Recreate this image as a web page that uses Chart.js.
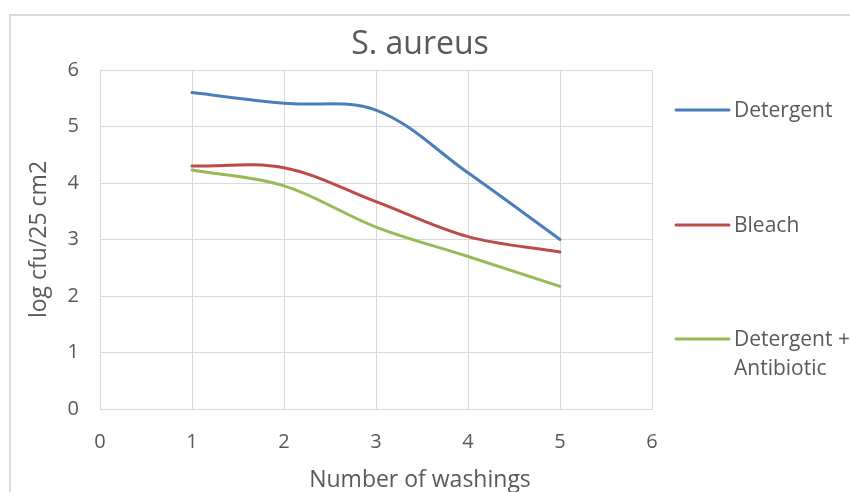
<!DOCTYPE html>
<html>
<head>
<meta charset="utf-8">
<script src="https://cdn.jsdelivr.net/npm/chart.js@4.4.1/dist/chart.umd.min.js"></script>
<style>
html,body{margin:0;padding:0;background:#fff;}
canvas{display:block;}
</style>
</head>
<body>
<canvas id="c" width="850" height="492"></canvas>
<script>
// ---- data ----
const washings = [1, 2, 3, 4, 5];
const detergent = [5.60, 5.41, 5.29, 4.18, 3.00];
const bleach = [4.30, 4.27, 3.67, 3.05, 2.78];
const detergentAntibiotic = [4.23, 3.95, 3.22, 2.70, 2.17];
const seriesNames = ['Detergent', 'Bleach', 'Detergent + Antibiotic'];
const legendLines = [['Detergent'], ['Bleach'], ['Detergent +', 'Antibiotic']];
const xTicks = [0, 1, 2, 3, 4, 5, 6];
const yTicks = [0, 1, 2, 3, 4, 5, 6];
const chartTitle = 'S. aureus';
const xTitle = 'Number of washings';
const yTitle = 'log cfu/25 cm2';

const colors = ['#4A7EBB', '#BE4B48', '#98B954'];
const FONT = "'Open Sans', 'Noto Sans', sans-serif";
const TXT = '#595959';
const GRID = '#d9d9d9';

function pts(ys){ return washings.map((x,i)=>({x:x, y:ys[i]})); }
const seriesValues = [detergent, bleach, detergentAntibiotic];

const frame = {
  id: 'frame',
  beforeDraw(chart){
    const ctx = chart.ctx;
    ctx.save();
    ctx.fillStyle = '#fff';
    ctx.fillRect(0,0,chart.width,chart.height);
    ctx.strokeStyle = '#d9d9d9';
    ctx.lineWidth = 2;
    ctx.strokeRect(10, 15, 900, 600);
    ctx.restore();
  }
};

// x-axis title centred under the whole chart, like the chart title
const xAxisTitle = {
  id: 'xAxisTitle',
  afterDraw(chart){
    const ctx = chart.ctx;
    const tb = chart.titleBlock;
    const cx = (tb.left + tb.right) / 2;
    const xs = chart.scales.x;
    ctx.save();
    ctx.font = '23px ' + FONT;
    ctx.fillStyle = TXT;
    ctx.textAlign = 'center';
    ctx.textBaseline = 'middle';
    ctx.fillText(xTitle, cx, xs.bottom - 11.5);
    ctx.restore();
  }
};

const sideLegend = {
  id: 'sideLegend',
  afterDraw(chart){
    const ctx = chart.ctx;
    const ys = [110, 225, 339];
    ctx.save();
    ctx.font = '21px ' + FONT;
    ctx.textBaseline = 'middle';
    ctx.textAlign = 'left';
    chart.data.datasets.forEach((ds, i) => {
      const y = ys[i];
      ctx.strokeStyle = ds.borderColor;
      ctx.lineWidth = 3;
      ctx.lineCap = 'round';
      ctx.beginPath();
      ctx.moveTo(676, y);
      ctx.lineTo(729, y);
      ctx.stroke();
      ctx.fillStyle = TXT;
      legendLines[i].forEach((t, j) => ctx.fillText(t, 734, y + 1 + j * 29));
    });
    ctx.restore();
  }
};

new Chart(document.getElementById('c'), {
  type: 'line',
  data: {
    datasets: seriesValues.map((v, i) => ({
      label: seriesNames[i],
      data: pts(v),
      borderColor: colors[i],
      backgroundColor: colors[i],
      borderWidth: 3,
      pointRadius: 0,
      tension: 0.35,
      fill: false,
      borderCapStyle: 'round'
    }))
  },
  options: {
    responsive: false,
    animation: false,
    devicePixelRatio: 1,
    layout: { padding: { left: 0, top: 0, right: 10, bottom: 0 } },
    plugins: {
      legend: { display: false },
      tooltip: { enabled: false },
      title: {
        display: true,
        text: chartTitle,
        color: TXT,
        font: { family: FONT, size: 32, weight: 'normal', lineHeight: 1.2 },
        padding: { top: 26, bottom: 5.6 }
      }
    },
    scales: {
      x: {
        type: 'linear',
        min: 0, max: 6,
        afterBuildTicks(s){ s.ticks = xTicks.map(v => ({value: v})); },
        afterFit(s){ s.height = 83; },
        ticks: { color: TXT, font: { family: FONT, size: 20 }, padding: 21, maxRotation: 0 },
        grid: { color: GRID, lineWidth: 1, drawTicks: false },
        border: { color: GRID, width: 1 },
        title: { display: false }
      },
      y: {
        type: 'linear',
        min: 0, max: 6,
        afterBuildTicks(s){ s.ticks = yTicks.map(v => ({value: v})); },
        afterFit(s){ s.width = 100; },
        ticks: { color: TXT, font: { family: FONT, size: 20 }, padding: 21 },
        grid: { color: GRID, lineWidth: 1, drawTicks: false },
        border: { color: GRID, width: 1 },
        title: {
          display: true, text: yTitle, color: TXT,
          font: { family: FONT, size: 23, lineHeight: 1.2 },
          padding: { top: 25.7, bottom: 0 }
        }
      },
      yR: {
        type: 'linear',
        position: 'right',
        display: true,
        min: 0, max: 6,
        afterFit(s){ s.width = 188; },
        ticks: { display: false },
        grid: { display: false, drawTicks: false },
        border: { display: false }
      }
    }
  },
  plugins: [frame, xAxisTitle, sideLegend]
});
</script>
</body>
</html>
